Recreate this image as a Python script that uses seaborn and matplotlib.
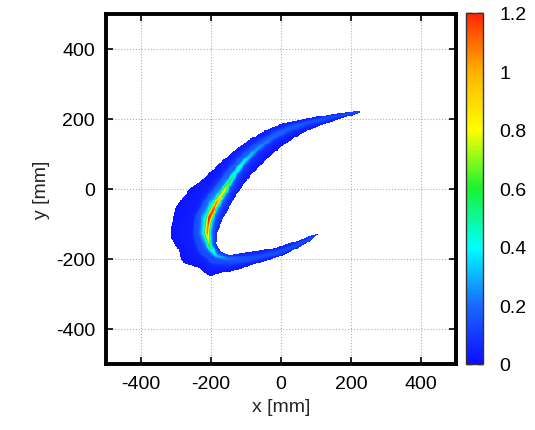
import numpy as np
import pandas as pd
import matplotlib
matplotlib.use('Agg')
import matplotlib.pyplot as plt
from matplotlib.colors import LinearSegmentedColormap
import seaborn as sns

# ridge line of the crescent (mm), upper tip -> lower tip
spine_x = [222, 150, 73, 26, -22, -69, -108, -136, -165, -189, -206, -211, -205, -185,
           -150, -108, -60, -12, 40, 80, 102]
spine_y = [220, 205, 186, 171, 148, 114, 76, 38, -10, -48, -86, -124, -162, -190,
           -200, -198, -190, -180, -160, -142, -129]
# distance from the ridge to the outer / inner edge of the band (mm)
width_out = [3, 10, 15, 22, 28, 35, 43, 55, 70, 88, 100, 105, 88, 60, 38, 26, 19, 15, 12, 7, 2]
width_in = [3, 10, 18, 28, 35, 40, 40, 38, 35, 38, 35, 30, 22, 15, 12, 16, 14, 13, 10, 6, 2]
# value on the ridge
ridge_peak = [0.03, 0.05, 0.08, 0.12, 0.15, 0.22, 0.35, 0.45, 0.8, 1.1, 1.2, 1.05, 0.55,
              0.3, 0.15, 0.1, 0.08, 0.07, 0.06, 0.04, 0.02]

axis_ticks = [-400, -200, 0, 200, 400]
cbar_ticks = [0, 0.2, 0.4, 0.6, 0.8, 1.0, 1.2]
cbar_labels = ['0', '0.2', '0.4', '0.6', '0.8', '1', '1.2']

# grid
cell = 2.5
xc = np.arange(-500 + cell / 2, 500, cell)
yc = np.arange(500 - cell / 2, -500, -cell)
X, Y = np.meshgrid(xc, yc)
P = np.stack([X.ravel(), Y.ravel()], axis=1)

sx = np.array(spine_x, float)
sy = np.array(spine_y, float)
nseg = len(sx) - 1
best_d = np.full(len(P), np.inf)
best_s = np.zeros(len(P))
best_sign = np.zeros(len(P))
for i in range(nseg):
    a = np.array([sx[i], sy[i]])
    b = np.array([sx[i + 1], sy[i + 1]])
    ab = b - a
    t = np.clip(((P - a) @ ab) / (ab @ ab), 0, 1)
    proj = a + t[:, None] * ab
    d = np.hypot(*(P - proj).T)
    cr = ab[0] * (P[:, 1] - a[1]) - ab[1] * (P[:, 0] - a[0])
    upd = d < best_d
    best_d[upd] = d[upd]
    best_s[upd] = i + t[upd]
    best_sign[upd] = np.where(cr[upd] < 0, 1.0, -1.0)

idx = np.arange(len(sx))
w_o = np.interp(best_s, idx, width_out)
w_i = np.interp(best_s, idx, width_in)
pk = np.interp(best_s, idx, ridge_peak)
dd = best_d * best_sign  # positive towards the outer side

core = 0.7 * pk * np.exp(-(dd / 7) ** 2)
glow = 0.3 * pk * np.exp(-((dd - 5) / 22) ** 2)
line2 = 0.05 * np.exp(-((dd - 0.35 * w_o) / 5) ** 2)
base = 0.02 + 0.03 * (1 - np.clip(np.abs(dd) / np.maximum(w_o, 1), 0, 1))
val = core + glow + line2 + base
inside = (dd <= w_o) & (dd >= -w_i)
val[~inside] = np.nan
Z = pd.DataFrame(val.reshape(X.shape), index=yc, columns=xc)

cmap = LinearSegmentedColormap.from_list('jetlike', [
    (0.0, (0.05, 0.05, 1.0)),
    (0.17, (0.10, 0.42, 1.0)),
    (0.33, (0.0, 1.0, 1.0)),
    (0.5, (0.10, 0.95, 0.20)),
    (0.667, (1.0, 1.0, 0.0)),
    (0.833, (1.0, 0.70, 0.0)),
    (1.0, (1.0, 0.15, 0.0)),
])

sns.set_style('ticks')
plt.rcParams['font.family'] = ['Liberation Sans', 'DejaVu Sans']
plt.rcParams['font.size'] = 14

fig = plt.figure(figsize=(5.35, 4.31), dpi=100)
ax = fig.add_axes([106 / 535, 1 - 365 / 431, 350 / 535, 350 / 431])
cax = fig.add_axes([466 / 535, 1 - 365 / 431, 17 / 535, 351 / 431])

sns.heatmap(Z, mask=Z.isna(), cmap=cmap, vmin=0, vmax=1.2, ax=ax, cbar_ax=cax,
            xticklabels=False, yticklabels=False, cbar_kws={'ticks': cbar_ticks})

n = len(xc)
ax.set_xlim(0, n)
ax.set_ylim(n, 0)
ax.set_xticks([(v + 500) / cell for v in axis_ticks])
ax.set_xticklabels([str(v) for v in axis_ticks])
ax.set_yticks([(500 - v) / cell for v in axis_ticks])
ax.set_yticklabels([str(v) for v in axis_ticks], rotation=0)
ax.tick_params(direction='in', length=5, width=1.2, top=True, right=True,
               labelsize=14, pad=8, colors='black')
ax.grid(True, linestyle=':', color='#b0b0b0', linewidth=0.8)
ax.set_axisbelow(True)
for s in ax.spines.values():
    s.set_visible(True)
    s.set_linewidth(2.8)
    s.set_color('black')
ax.set_xlabel('x [mm]', fontsize=14)
ax.set_ylabel('y [mm]', fontsize=14)

cb = ax.collections[0].colorbar
cb.outline.set_visible(True)
cb.outline.set_linewidth(1.0)
cb.outline.set_edgecolor('#333333')
cax.set_yticks(cbar_ticks)
cax.set_yticklabels(cbar_labels)
cax.tick_params(direction='in', left=True, right=True, length=4, width=1,
                labelsize=14, pad=12, colors='black')

fig.savefig('out.png', dpi=100)
